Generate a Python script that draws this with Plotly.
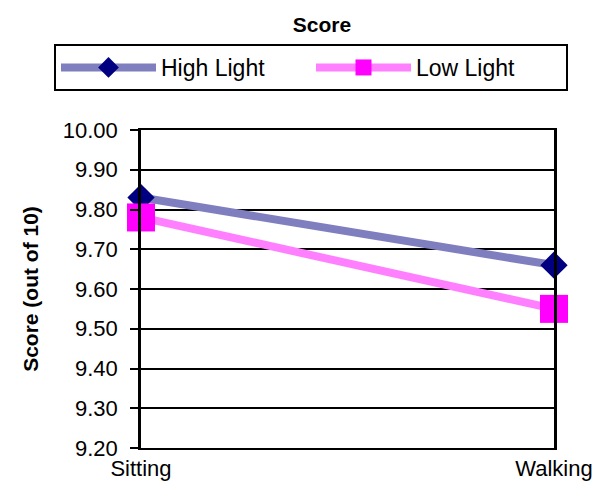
import plotly.graph_objects as go

categories = ["Sitting", "Walking"]
high_light = [9.83, 9.66]
low_light = [9.78, 9.55]
y_ticks = [9.2, 9.3, 9.4, 9.5, 9.6, 9.7, 9.8, 9.9, 10.0]

FONT = "Liberation Sans, Arial, sans-serif"

W, H = 603, 482

fig = go.Figure()
fig.add_trace(go.Scatter(
    x=categories, y=high_light, name="High Light", mode="lines+markers",
    line=dict(color="#7F7FBF", width=8),
    marker=dict(symbol="diamond", size=21, color="#000080"),
    cliponaxis=False,
))
fig.add_trace(go.Scatter(
    x=categories, y=low_light, name="Low Light", mode="lines+markers",
    line=dict(color="#FF80FF", width=8),
    marker=dict(symbol="square", size=28, color="#FF00FF"),
    cliponaxis=False,
))

fig.update_layout(
    width=W, height=H,
    margin=dict(l=133, r=57, t=122, b=42, autoexpand=False),
    paper_bgcolor="white", plot_bgcolor="white",
    font=dict(family=FONT, size=22, color="black"),
    title=dict(text="<b>Score</b>", x=314/W, xanchor="center", y=1-17/H, yanchor="middle",
               font=dict(size=21)),
    showlegend=True,
    legend=dict(orientation="h", x=(54-141)/413, xanchor="left", y=(448-44)/318, yanchor="top",
                bordercolor="black", borderwidth=2, bgcolor="white",
                entrywidth=145, font=dict(size=23), itemwidth=95),
    xaxis=dict(type="category", range=[0, 1], showgrid=False, showline=True,
               linecolor="black", linewidth=2, mirror=True, ticks="", tickfont=dict(size=22)),
    yaxis=dict(range=[9.2, 10.0], tickvals=y_ticks, tickformat=".2f",
               showgrid=True, gridcolor="black", gridwidth=1.5,
               showline=True, linecolor="black", linewidth=2.5, mirror=True,
               ticks="outside", ticklen=8, tickwidth=2, tickcolor="black",
               ticklabelstandoff=8,
               title=dict(text="<b>Score (out of 10)</b>", font=dict(size=21), standoff=19),
               tickfont=dict(size=22), zeroline=False),
)

fig.write_html("out.html")
